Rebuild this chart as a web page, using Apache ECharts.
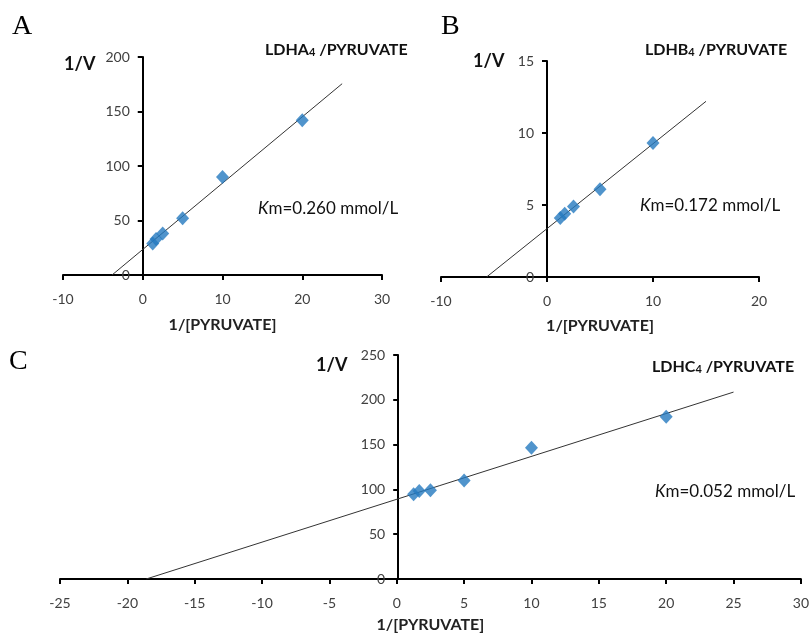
<!DOCTYPE html>
<html>
<head>
<meta charset="utf-8">
<script src="https://cdn.jsdelivr.net/npm/echarts@6/dist/echarts.min.js"></script>
<style>
  html, body { margin: 0; padding: 0; background: #fff; }
  #chart { width: 812px; height: 635px; }
</style>
</head>
<body>
<div id="chart"></div>
<script>
// substrate reciprocals 1/[PYRUVATE]
const invS = [1.25, 1.67, 2.5, 5, 10, 20];
const invSB = [1.25, 1.67, 2.5, 5, 10];

// 1/V values
const ldhA = [29, 33, 38, 52, 90, 142];
const ldhB = [4.1, 4.4, 4.9, 6.1, 9.3];
const ldhC = [94.6, 98.3, 99, 110, 146.4, 181];

// fitted lines, two end points each [x, y]
const fitA = [[-3.85, 0], [25, 175.5]];
const fitB = [[-5.7, 0], [15, 12.2]];
const fitC = [[-18.6, 0], [25, 208.6]];

const panels = ["A", "B", "C"];
const titles = ["LDHA", "LDHB", "LDHC"];
const kmTexts = ["0.260", "0.172", "0.052"];

const chart = echarts.init(document.getElementById("chart"));

const FONT = "Lato";
const blue = "#2479bf";

function pts(xs, ys) {
  return xs.map((x, i) => [x, ys[i]]);
}

function xAx(idx, min, max, interval, gap) {
  return {
    gridIndex: idx, type: "value", min, max, interval,
    name: "1/[PYRUVATE]", nameLocation: "middle", nameGap: gap,
    nameTextStyle: { fontFamily: FONT, fontWeight: "bold", fontSize: 16, color: "#222" },
    axisLine: { onZero: false, lineStyle: { color: "#000", width: 2 } },
    axisTick: { show: true, length: 5, lineStyle: { color: "#000", width: 2 } },
    axisLabel: { fontFamily: FONT, fontSize: 14, color: "#404040", margin: 17 },
    splitLine: { show: false },
  };
}

// the y axis sits on x = 0, so it is shifted right from the grid edge
function yAx(idx, max, interval, shift) {
  return {
    gridIndex: idx, type: "value", min: 0, max, interval,
    offset: -shift,
    axisLine: { onZero: false, lineStyle: { color: "#000", width: 2 } },
    axisTick: { show: true, length: 5, lineStyle: { color: "#000", width: 2 } },
    axisLabel: { fontFamily: FONT, fontSize: 14, color: "#404040", margin: 13 },
    splitLine: { show: false },
  };
}

function scatter(idx, data) {
  return {
    type: "scatter", xAxisIndex: idx, yAxisIndex: idx, data,
    symbol: "diamond", symbolSize: [13, 14],
    itemStyle: { color: blue }, z: 3,
  };
}

function fit(idx, data) {
  return {
    type: "line", xAxisIndex: idx, yAxisIndex: idx, data,
    showSymbol: false, symbol: "none",
    lineStyle: { color: "#333", width: 1 }, z: 2,
  };
}

function titleText(x, y, i) {
  return {
    type: "text", left: x, top: y,
    style: {
      text: "{a|" + titles[i] + "}{s|4}{a| /PYRUVATE}",
      rich: {
        a: { fontFamily: FONT, fontWeight: "bold", fontSize: 16, fill: "#111" },
        s: { fontFamily: FONT, fontWeight: "bold", fontSize: 11, fill: "#111", padding: [4, 0, 0, 0] },
      },
    },
  };
}

function kmText(x, y, i) {
  return {
    type: "text", left: x, top: y,
    style: {
      text: "{k|K}{t|m=" + kmTexts[i] + " mmol/L}",
      rich: {
        k: { fontFamily: FONT, fontStyle: "italic", fontSize: 17, fill: "#111" },
        t: { fontFamily: FONT, fontSize: 17, fill: "#111" },
      },
    },
  };
}

function vText(x, y) {
  return {
    type: "text", left: x, top: y,
    style: { text: "1/V", font: "bold 18px " + FONT, fill: "#111" },
  };
}

function letter(x, y, i) {
  return {
    type: "text", left: x, top: y,
    style: { text: panels[i], font: "28px 'Liberation Serif'", fill: "#000" },
  };
}

const option = {
  animation: false,
  backgroundColor: "#fff",
  grid: [
    { left: 63, right: 430, top: 57, bottom: 360 },
    { left: 441, right: 53, top: 61, bottom: 358 },
    { left: 60, right: 8, top: 355, bottom: 56 },
  ],
  xAxis: [
    xAx(0, -10, 30, 10, 42),
    xAx(1, -10, 20, 10, 41),
    xAx(2, -25, 30, 5, 38),
  ],
  yAxis: [
    yAx(0, 200, 50, 79.75),
    yAx(1, 15, 5, 106),
    yAx(2, 250, 50, 338.2),
  ],
  series: [
    fit(0, fitA), scatter(0, pts(invS, ldhA)),
    fit(1, fitB), scatter(1, pts(invSB, ldhB)),
    fit(2, fitC), scatter(2, pts(invS, ldhC)),
  ],
  graphic: [
    letter(12, 13, 0), letter(441, 13, 1), letter(9, 348, 2),
    titleText(265, 42, 0), titleText(645, 42, 1), titleText(652, 359, 2),
    kmText(258, 200, 0), kmText(640, 197, 1), kmText(655, 483, 2),
    vText(64, 55), vText(473, 52), vText(316, 356),
  ],
};

chart.setOption(option);
</script>
</body>
</html>
